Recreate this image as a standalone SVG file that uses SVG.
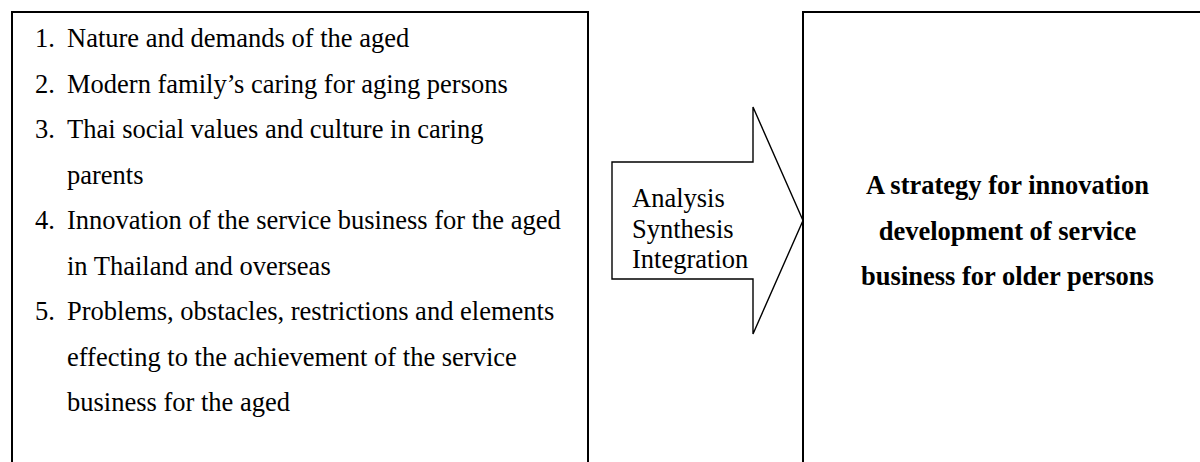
<svg xmlns="http://www.w3.org/2000/svg" width="1200" height="462" viewBox="0 0 1200 462">
<style>
  .box { fill: #ffffff; stroke: #000000; stroke-width: 2; }
  .arrow { fill: #ffffff; stroke: #000000; stroke-width: 1.4; stroke-linejoin: miter; }
  .t { font-family: "Liberation Serif", "Times New Roman", serif; font-size: 26.5px; fill: #000000; }
  .b { font-family: "Liberation Serif", "Times New Roman", serif; font-size: 26.5px; font-weight: bold; fill: #000000; text-anchor: middle; }
</style>
<rect width="1200" height="462" fill="#ffffff"/>
<g id="factors">
  <rect class="box" x="12" y="12" width="576" height="480"/>
  <text class="t" x="35" y="47">1.</text><text class="t" x="67" y="47">Nature and demands of the aged</text>
  <text class="t" x="35" y="92.5">2.</text><text class="t" x="67" y="92.5">Modern family’s caring for aging persons</text>
  <text class="t" x="35" y="138">3.</text><text class="t" x="67" y="138">Thai social values and culture in caring</text>
  <text class="t" x="67" y="183.5">parents</text>
  <text class="t" x="35" y="229">4.</text><text class="t" x="67" y="229">Innovation of the service business for the aged</text>
  <text class="t" x="67" y="274.5">in Thailand and overseas</text>
  <text class="t" x="35" y="320">5.</text><text class="t" x="67" y="320">Problems, obstacles, restrictions and elements</text>
  <text class="t" x="67" y="365.5">effecting to the achievement of the service</text>
  <text class="t" x="67" y="411">business for the aged</text>
</g>
<g id="connectors">
  <polygon class="arrow" points="612,162 753,162 753,107 803,220.5 753,334 753,279 612,279"/>
  <text class="t" x="632" y="207">Analysis</text>
  <text class="t" x="632" y="237.5">Synthesis</text>
  <text class="t" x="632" y="268">Integration</text>
</g>
<g id="strategy">
  <rect class="box" x="803" y="12" width="420" height="480"/>
  <text class="b" x="1007.5" y="194">A strategy for innovation</text>
  <text class="b" x="1007.5" y="239.5">development of service</text>
  <text class="b" x="1007.5" y="285">business for older persons</text>
</g>
</svg>
